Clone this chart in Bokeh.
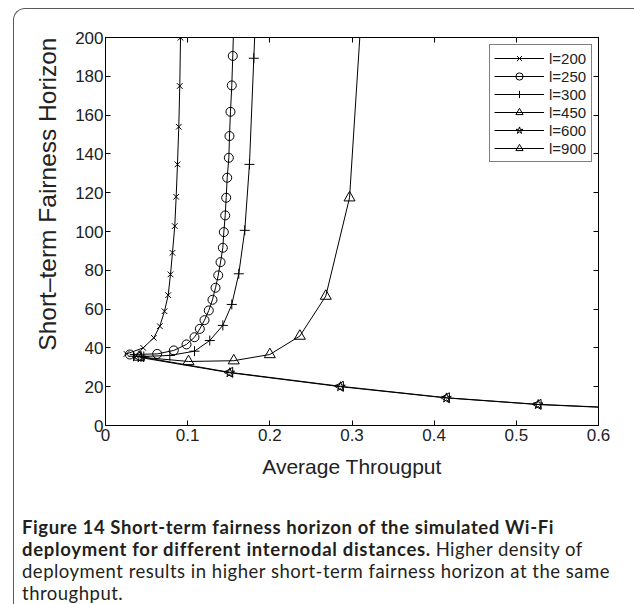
from bokeh.plotting import figure
from bokeh.models import LinearAxis, FixedTicker, CustomJSTickFormatter, Title, Div
from bokeh.layouts import column
from bokeh.embed import file_html
from bokeh.resources import INLINE
import math

# ---------------- data ----------------
x_ticks = [0, 0.1, 0.2, 0.3, 0.4, 0.5, 0.6]
y_ticks = [0, 20, 40, 60, 80, 100, 120, 140, 160, 180, 200]

l200_x = [0.0256, 0.0459, 0.0588, 0.0661, 0.0718, 0.0763, 0.0791, 0.0815, 0.0843,
          0.0860, 0.0876, 0.0892, 0.0904, 0.0913]
l200_y = [36.9, 40.0, 45.2, 51.2, 58.9, 67.2, 77.9, 89.0, 102.8,
          117.9, 134.6, 154.0, 175.0, 199.9]

l250_x = [0.0296, 0.0629, 0.0831, 0.0986, 0.1083, 0.1148, 0.1205, 0.1257, 0.1302,
          0.1339, 0.1372, 0.1400, 0.1428, 0.1440, 0.1457, 0.1469, 0.1481, 0.1501,
          0.1509, 0.1521, 0.1537, 0.1549, 0.1560]
l250_y = [36.6, 36.9, 38.7, 41.8, 45.5, 49.8, 54.3, 59.3, 64.8,
          71.0, 77.4, 84.2, 91.6, 99.7, 108.3, 117.4, 127.7, 138.0,
          149.2, 161.7, 175.3, 190.5, 206.0]

l300_x = [0.0341, 0.0466, 0.0783, 0.1083, 0.1269, 0.1428, 0.1537, 0.1622, 0.1695,
          0.1752, 0.1805, 0.1830]
l300_y = [35.7, 35.6, 36.1, 38.3, 43.8, 51.6, 62.4, 78.2, 100.6,
          134.6, 189.3, 215.0]

l450_x = [0.0410, 0.1010, 0.1561, 0.2000, 0.2365, 0.2681, 0.2970, 0.3110]
l450_y = [35.3, 33.0, 33.4, 36.6, 46.1, 66.7, 117.4, 210.0]

l600_x = [0.0430, 0.1513, 0.2860, 0.4150, 0.5266, 0.6400]
l600_y = [35.0, 27.2, 20.0, 14.2, 10.8, 8.7]

l900_x = [0.0400, 0.1513, 0.2860, 0.4150, 0.5266, 0.6400]
l900_y = [35.6, 27.4, 20.2, 14.3, 10.9, 8.8]

series_labels = ["l=200", "l=250", "l=300", "l=450", "l=600", "l=900"]

x_label = "Average Througput"
y_label = "Short\u2013term Fairness Horizon"

caption_1 = "Figure 14 Short-term fairness horizon of the simulated Wi-Fi"
caption_2_bold = "deployment for different internodal distances."
caption_2_norm = "Higher density of"
caption_3 = "deployment results in higher short-term fairness horizon at the same"
caption_4 = "throughput."

# ---------------- figure ----------------
AX_FONT = "Liberation Sans"
TXT = "#222222"

p = figure(width=604, height=475, x_range=(0, 0.6), y_range=(0, 200),
           output_backend="svg", toolbar_location=None,
           min_border_left=91, min_border_right=20,
           min_border_top=28, min_border_bottom=59)
p.xgrid.visible = False
p.ygrid.visible = False
p.outline_line_color = "black"
p.background_fill_color = "white"
p.border_fill_color = None

fmt_x = CustomJSTickFormatter(code="return Number(tick.toFixed(2)).toString();")

def style_axis(ax, show_labels):
    ax.axis_line_color = "black"
    ax.axis_line_width = 1
    ax.major_tick_in = 5
    ax.major_tick_out = 0
    ax.major_tick_line_color = "black"
    ax.minor_tick_line_color = None
    ax.major_label_text_font = AX_FONT
    ax.major_label_text_font_size = "17px"
    if show_labels:
        ax.major_label_text_color = TXT
    else:
        ax.major_label_text_color = None
        ax.major_label_standoff = 0

p.xaxis.ticker = FixedTicker(ticks=x_ticks)
p.xaxis.formatter = fmt_x
p.yaxis.ticker = FixedTicker(ticks=y_ticks)
style_axis(p.xaxis[0], True)
style_axis(p.yaxis[0], True)
p.xaxis.major_label_standoff = 3
p.yaxis.major_label_standoff = 2

p.xaxis.axis_label = x_label
p.xaxis.axis_label_text_font = AX_FONT
p.xaxis.axis_label_text_font_style = "normal"
p.xaxis.axis_label_text_font_size = "21px"
p.xaxis.axis_label_text_color = TXT
p.xaxis.axis_label_standoff = 11

top_ax = LinearAxis(ticker=FixedTicker(ticks=x_ticks), formatter=fmt_x)
right_ax = LinearAxis(ticker=FixedTicker(ticks=y_ticks))
style_axis(top_ax, False)
style_axis(right_ax, False)
p.add_layout(top_ax, "above")
p.add_layout(right_ax, "right")

# y axis title: a side title, aligned towards the top like in the reference
p.add_layout(Title(text=y_label, align="right", offset=0, standoff=24,
                   text_font=AX_FONT, text_font_size="24.5px",
                   text_font_style="normal", text_color=TXT), "left")

# ---------------- series ----------------
xs = [l200_x, l250_x, l300_x, l450_x, l600_x, l900_x]
ys = [l200_y, l250_y, l300_y, l450_y, l600_y, l900_y]
markers = ["x", "circle", "cross", "triangle", "star", "triangle"]
sizes = [8, 9, 10, 11, 10, 10]
angles = [0, 0, 0, 0, 0, math.pi / 2]

for sx, sy, lab, mk, sz, ang in zip(xs, ys, series_labels, markers, sizes, angles):
    p.line(sx, sy, line_color="black", line_width=1, legend_label=lab)
    p.scatter(sx, sy, marker=mk, size=sz, angle=ang, line_color="black",
              line_width=1, fill_color=None, legend_label=lab)

lg = p.legend[0]
lg.location = (384, 263)
lg.margin = 0
lg.padding = 4
lg.spacing = 0
lg.glyph_width = 50
lg.glyph_height = 18
lg.label_height = 18
lg.label_width = 38
lg.label_standoff = 5
lg.label_text_font = AX_FONT
lg.label_text_font_size = "15px"
lg.label_text_color = TXT
lg.border_line_color = "black"
lg.border_line_width = 1
lg.background_fill_color = "white"
lg.background_fill_alpha = 1.0

# ---------------- caption ----------------
caption_html = (
    f'<span style="font-weight:bold;letter-spacing:0.6px">{caption_1}</span><br>'
    f'<span style="font-weight:bold;letter-spacing:0.7px">{caption_2_bold}</span> '
    f'<span style="letter-spacing:0.45px">{caption_2_norm}</span><br>'
    f'<span style="letter-spacing:0.5px">{caption_3}</span><br>'
    f'<span style="letter-spacing:0.5px">{caption_4}</span>')
cap = Div(text=caption_html, width=620, height=120,
          styles={"font-family": "Lato", "font-size": "18.5px", "line-height": "22px",
                  "color": "#231f20", "padding-top": "27px", "padding-left": "3px",
                  "white-space": "nowrap", "overflow": "hidden",
                  "box-sizing": "border-box"})

card = column(p, cap, width=621,
              styles={"margin-left": "13px", "margin-top": "8px",
                      "border-left": "1px solid #5a5a5a",
                      "border-top": "1px solid #5a5a5a",
                      "border-top-left-radius": "12px"})

open("out.html", "w").write(file_html(card, INLINE))
